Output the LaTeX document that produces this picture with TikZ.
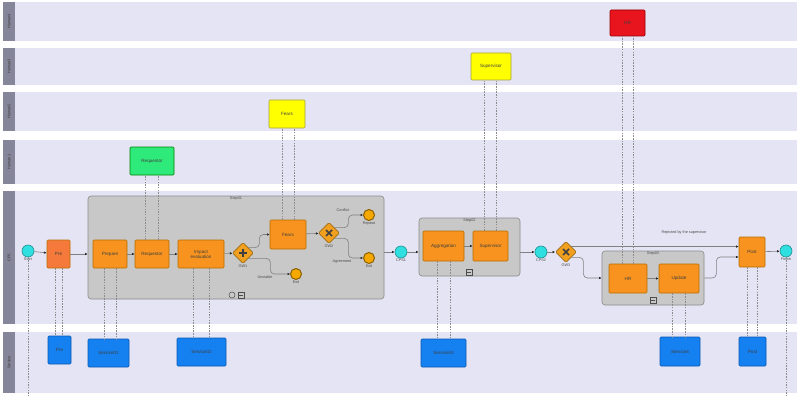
\documentclass[tikz,border=0pt]{standalone}
\usepackage{fontspec}
\setmainfont{Liberation Sans}
\usetikzlibrary{shapes.geometric,arrows.meta}

\definecolor{lanebg}{HTML}{E4E4F4}
\definecolor{lanehd}{HTML}{86869A}
\definecolor{subfill}{HTML}{C8C8C8}
\definecolor{subbd}{HTML}{8A8A8A}
\definecolor{taskor}{HTML}{F7931E}
\definecolor{taskbd}{HTML}{B86E00}
\definecolor{preor}{HTML}{F5793A}
\definecolor{cpscol}{HTML}{30E0E0}
\definecolor{cpsbd}{HTML}{1A9090}
\definecolor{endcol}{HTML}{F5A800}
\definecolor{endbd}{HTML}{8A6000}
\definecolor{gwcol}{HTML}{F0A01E}
\definecolor{gwbd}{HTML}{A06A10}
\definecolor{svcblue}{HTML}{1580F0}
\definecolor{svcbd}{HTML}{0A5AB0}
\definecolor{humyel}{HTML}{FFFF00}
\definecolor{humgrn}{HTML}{2EEA7A}
\definecolor{humred}{HTML}{E8141E}

\begin{document}
\begin{tikzpicture}[x=1pt,y=-1pt,
    every node/.style={font=\fontsize{4.6}{5}\selectfont},
    lbl/.style={font=\fontsize{3.8}{4.2}\selectfont,text=black!70,inner sep=0.5pt},
    task/.style={rectangle,rounded corners=1pt,fill=taskor,draw=taskbd,line width=0.6pt,
      minimum width=#1,minimum height=28pt,align=center,inner sep=0.5pt,text=black!75},
    res/.style={rectangle,rounded corners=1pt,line width=0.6pt,minimum width=#1,
      minimum height=28pt,inner sep=0.5pt,text=black!75},
    sub/.style={rectangle,rounded corners=3pt,fill=subfill,draw=subbd,line width=0.6pt},
    evt/.style={circle,minimum size=12pt,inner sep=0pt,fill=cpscol,draw=cpsbd,line width=0.6pt},
    endev/.style={circle,minimum size=11pt,inner sep=0pt,fill=endcol,draw=endbd,line width=1pt},
    gw/.style={diamond,minimum size=21pt,inner sep=0pt,fill=gwcol,draw=gwbd,line width=0.6pt,rounded corners=1pt},
    flow/.style={draw=black!50,line width=0.6pt,-{Latex[length=2.5pt,width=2.5pt,color=black!85]}},
    dep/.style={draw=black!45,line width=0.5pt,dash pattern=on 1.5pt off 1.2pt}]

  \useasboundingbox (0,0) rectangle (801,396);
  \fill[white] (0,0) rectangle (801,396);

  % lanes
  \foreach \t/\b/\n in {2/41/Human4,48/85/Human3,92/131/Human2,140/184/Human1,191/324/CPS,332/393/Service}{
    \fill[lanebg] (3,\t) rectangle (797,\b);
    \fill[lanehd] (3,\t) rectangle (15,\b);
    \node[lbl,text=black!80,rotate=90] (lane-\n) at (9,{(\t+\b)/2}) {\n};
  }

  % sub-processes
  \node[sub,minimum width=296pt,minimum height=103pt,label={[lbl,anchor=north]north:Step01}] (step01) at (236,247.5) {};
  \node[sub,minimum width=101pt,minimum height=58pt,label={[lbl,anchor=north]north:Step02}] (step02) at (469.5,247) {};
  \node[sub,minimum width=102pt,minimum height=54pt,label={[lbl,anchor=north]north:Step03}] (step03) at (653,278) {};
  \draw[black!70,line width=0.5pt] (232,295) circle (3);
  \draw[black!70,line width=0.4pt] (238,292) rectangle (244,298) (239,295) -- (243,295);
  \draw[black!70,line width=0.4pt] (466,269) rectangle (472,275) (467,272) -- (471,272);
  \draw[black!70,line width=0.4pt] (650,297) rectangle (656,303) (651,300) -- (655,300);

  % CPS lane
  \node[evt,label={[lbl]below:Start}] (start) at (28,251) {};
  \node[task=23pt,fill=preor] (pre) at (58.5,254) {Pre};
  \node[task=34pt] (prepare) at (110,254) {Prepare};
  \node[task=34pt] (requestor) at (152,254) {Requestor};
  \node[task=46pt] (impact) at (201,254) {Impact\\evaluation};
  \node[gw,label={[lbl]below:GW1}] (gw1) at (243,253) {};
  \draw[black!75,line width=1.6pt] (gw1.center) ++(-4,0) -- ++(8,0) (gw1.center) ++(0,-4) -- ++(0,8);
  \node[task=36pt,minimum height=29pt] (fears) at (288,234.5) {Fears};
  \node[gw,label={[lbl]below:GW2}] (gw2) at (329,233) {};
  \draw[black!75,line width=1.5pt] (gw2.center) ++(-3,-3) -- ++(6,6) (gw2.center) ++(3,-3) -- ++(-6,6);
  \node[endev,label={[lbl]below:Repeat}] (repeat) at (369,215) {};
  \node[endev,label={[lbl]below:Exit}] (exit1) at (369,258) {};
  \node[endev,label={[lbl]below:Exit}] (exit2) at (296,274) {};
  \node[evt,label={[lbl]below:CPS1}] (cps1) at (401,252) {};
  \node[task=41pt,minimum height=30pt] (aggregation) at (443.5,246) {Aggregation};
  \node[task=35pt,minimum height=30pt] (supervisor) at (490.5,246) {Supervisor};
  \node[evt,label={[lbl]below:CPS2}] (cps2) at (541,252) {};
  \node[gw,label={[lbl]below:GW3}] (gw3) at (566,252) {};
  \draw[black!75,line width=1.5pt] (gw3.center) ++(-3,-3) -- ++(6,6) (gw3.center) ++(3,-3) -- ++(-6,6);
  \node[task=38pt,minimum height=29pt] (hr) at (628,278.5) {HR};
  \node[task=40pt,minimum height=29pt] (update) at (679,278.5) {Update};
  \node[task=26pt,minimum height=30pt] (post) at (752,252) {Post};
  \node[evt,label={[lbl]below:Finish}] (finish) at (786,251) {};

  % human lanes
  \node[res=35pt,minimum height=26pt,fill=humred,draw=red!60!black] (hrres) at (627.5,23) {HR};
  \node[res=40pt,minimum height=27pt,fill=humyel,draw=yellow!60!black] (supres) at (491,66.5) {Supervisor};
  \node[res=36pt,fill=humyel,draw=yellow!60!black] (fearsres) at (287,114) {Fears};
  \node[res=44pt,fill=humgrn,draw=green!50!black] (reqres) at (152,161) {Requestor};

  % service lane
  \node[res=23pt,fill=svcblue,draw=svcbd] (preres) at (59.5,350) {Pre};
  \node[res=41pt,fill=svcblue,draw=svcbd] (svc01) at (108.5,353) {Service01};
  \node[res=49pt,fill=svcblue,draw=svcbd] (svc02) at (201.5,352) {Service02};
  \node[res=45pt,fill=svcblue,draw=svcbd] (svc03) at (443.5,353) {Service03};
  \node[res=40pt,minimum height=29pt,fill=svcblue,draw=svcbd] (svc04) at (680,351.5) {Service4};
  \node[res=27pt,minimum height=29pt,fill=svcblue,draw=svcbd] (postres) at (752.5,351.5) {Post};

  % sequence flows
  \draw[flow] (start) -- (pre);
  \draw[flow] (pre.east) -- (pre.east -| step01.west);
  \draw[flow] (prepare) -- (requestor);
  \draw[flow] (requestor) -- (impact);
  \draw[flow] (impact) -- (gw1);
  \draw[flow,rounded corners=4pt] (gw1.north east) -- ++(11,0) |- (fears.west);
  \draw[flow,rounded corners=4pt] (gw1.south east) -- ++(22,0) |- (exit2.west);
  \node[lbl] (unviable) at (265,277) {Unviable};
  \draw[flow] (fears) -- (gw2);
  \draw[flow,rounded corners=4pt] (gw2.north east) -- ++(14,0) |- (repeat.west);
  \node[lbl] (conflict) at (343,210) {Conflict};
  \draw[flow,rounded corners=4pt] (gw2.south east) -- ++(14,0) |- (exit1.west);
  \node[lbl] (agreement) at (342,262) {Agreement};
  \draw[flow] (cps1 -| step01.east) -- (cps1.west);
  \draw[flow] (cps1.east) -- (cps1 -| step02.west);
  \draw[flow] (aggregation) -- (supervisor);
  \draw[flow] (cps2 -| step02.east) -- (cps2.west);
  \draw[flow] (cps2) -- (gw3);
  \draw[flow] (gw3.north east) -- (gw3.north east -| post.west);
  \node[lbl] (rejected) at (684,233) {Rejected by the supervisor};
  \draw[flow,rounded corners=4pt] (gw3.south east) -- ++(12,0) |- (step03.west);
  \draw[flow] (hr) -- (update);
  \draw[flow,rounded corners=4pt] (step03.east) -- ++(12,0) |- ([yshift=-5pt]post.west);
  \draw[flow] (post) -- (finish);

  % resource links
  \foreach \t/\r/\d in {pre/preres/3.5,prepare/svc01/6,impact/svc02/8,aggregation/svc03/6.5,update/svc04/6.5,post/postres/5}{
    \draw[dep] ([xshift=-\d pt]\t.south) -- ([xshift=-\d pt]\t.south |- \r.north);
    \draw[dep] ([xshift=\d pt]\t.south) -- ([xshift=\d pt]\t.south |- \r.north);
  }
  \foreach \t/\r/\d in {requestor/reqres/6.5,fears/fearsres/6,supervisor/supres/6,hr/hrres/5.5}{
    \draw[dep] ([xshift=-\d pt]\t.north) -- ([xshift=-\d pt]\t.north |- \r.south);
    \draw[dep] ([xshift=\d pt]\t.north) -- ([xshift=\d pt]\t.north |- \r.south);
  }
  \draw[dep] (start.south) -- ++(0,139);
  \draw[dep] (finish.south) -- ++(0,139);
\end{tikzpicture}
\end{document}
